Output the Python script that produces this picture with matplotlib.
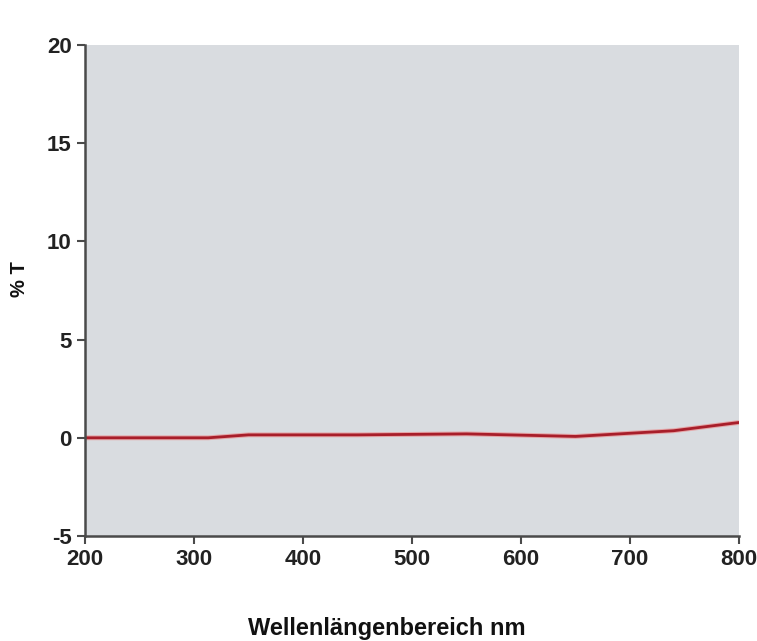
import matplotlib
matplotlib.use("Agg")
import matplotlib.pyplot as plt

wavelength = [200, 313, 350, 450, 550, 650, 740, 800]
transmission = [0.0, 0.0, 0.15, 0.15, 0.2, 0.07, 0.36, 0.78]
xticks = [200, 300, 400, 500, 600, 700, 800]
yticks = [-5, 0, 5, 10, 15, 20]

plt.rcParams['font.family'] = ['Liberation Sans', 'DejaVu Sans']
plt.rcParams['axes.unicode_minus'] = False
fig = plt.figure(figsize=(7.57, 6.41), dpi=100)
ax = fig.add_axes([0.1123, 0.1638, 0.8639, 0.766])
ax.set_facecolor('#d9dce0')
ax.plot(wavelength, transmission, color='#f07070', lw=3.5, alpha=0.5, solid_capstyle='butt')
ax.plot(wavelength, transmission, color='#a81e2a', lw=2.0)
ax.set_xlim(200, 800)
ax.set_ylim(-5, 20)
ax.set_xticks(xticks)
ax.set_yticks(yticks)
for s in ['top', 'right']:
    ax.spines[s].set_visible(False)
for s in ['left', 'bottom']:
    ax.spines[s].set_color('#4a4a4a')
    ax.spines[s].set_linewidth(1.8)
ax.tick_params(direction='out', length=6, width=1.5, color='#4a4a4a',
               labelsize=16, pad=3.5)
for lab in ax.get_xticklabels() + ax.get_yticklabels():
    lab.set_fontweight('bold')
    lab.set_color('#222222')
fig.text(0.026, 0.565, '% T', rotation=90, ha='center', va='center',
         fontsize=14.5, fontweight='bold', color='#111111')
fig.text(0.511, 0.0094, 'Wellenlängenbereich nm', ha='center', va='baseline',
         fontsize=17, fontweight='bold', color='#111111')
fig.savefig('out.png', dpi=100)
